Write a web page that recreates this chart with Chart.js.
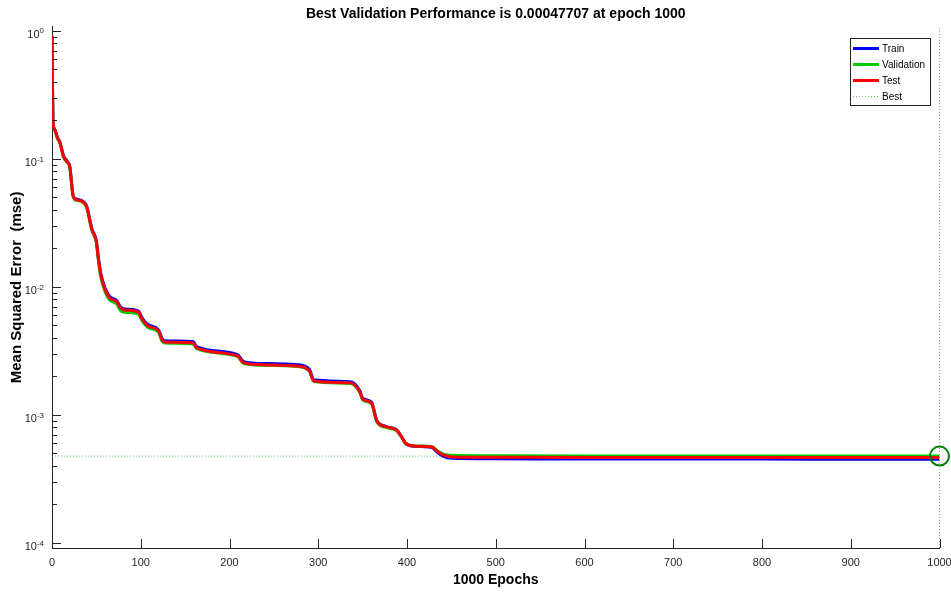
<!DOCTYPE html>
<html>
<head>
<meta charset="utf-8">
<script src="https://cdn.jsdelivr.net/npm/chart.js@4.4.1/dist/chart.umd.min.js"></script>
<style>
html, body { margin: 0; padding: 0; background: #fff; }
canvas { display: block; }
</style>
</head>
<body>
<canvas id="perfChart" width="951" height="592"></canvas>
<script>
// ---- datos ----
const epochs = [0, 1, 3, 6, 9, 13, 17, 20, 24, 28, 35, 39, 45, 50, 52, 55, 60, 65, 73, 77,
    82, 97, 102, 108, 120, 124, 127, 159, 163, 209, 216, 240, 276, 290, 295, 336, 347, 350, 360, 366,
    377, 388, 394, 398, 407, 428, 435, 441, 450, 500, 600, 700, 800, 900, 1000];

const trainPerf = [0.914, 0.204, 0.171, 0.148, 0.135, 0.106, 0.0960, 0.0875, 0.0512, 0.0484,
    0.0466, 0.0428, 0.0284, 0.0229, 0.0175, 0.0127, 0.0097, 0.0084, 0.00780, 0.00700,
    0.00672, 0.00650, 0.00565, 0.00508, 0.00462, 0.00395, 0.00380, 0.00374, 0.00342, 0.00296,
    0.00261, 0.00252, 0.00247, 0.00227, 0.00188, 0.00182, 0.00154, 0.00135, 0.00126, 0.000905,
    0.000812, 0.000768, 0.000675, 0.000604, 0.000570, 0.000556, 0.000505, 0.000474, 0.000458, 0.000454,
    0.000453, 0.000452, 0.000452, 0.000451, 0.000451];

const valPerf = [0.914, 0.200, 0.168, 0.145, 0.132, 0.103, 0.0940, 0.0860, 0.0500, 0.0474,
    0.0457, 0.0418, 0.0275, 0.0220, 0.0166, 0.0119, 0.0091, 0.0079, 0.00735, 0.00655,
    0.00634, 0.00615, 0.00535, 0.00482, 0.00442, 0.00376, 0.00364, 0.00358, 0.00329, 0.00285,
    0.00252, 0.00244, 0.00239, 0.00219, 0.00182, 0.00176, 0.00149, 0.00131, 0.00122, 0.000885,
    0.000796, 0.000757, 0.000668, 0.000603, 0.000575, 0.000566, 0.000520, 0.000495, 0.000484, 0.000480,
    0.000479, 0.000478, 0.0004775, 0.0004772, 0.00047707];

const testPerf = [0.914, 0.202, 0.169, 0.146, 0.133, 0.104, 0.0948, 0.0866, 0.0505, 0.0478,
    0.0461, 0.0422, 0.0279, 0.0225, 0.0171, 0.0124, 0.00948, 0.0082, 0.00764, 0.00686,
    0.00661, 0.00638, 0.00552, 0.00496, 0.00453, 0.00385, 0.00372, 0.00365, 0.00334, 0.00289,
    0.00255, 0.00246, 0.00241, 0.00221, 0.00184, 0.00178, 0.00151, 0.00133, 0.00124, 0.000898,
    0.000806, 0.000764, 0.000673, 0.000605, 0.000573, 0.000562, 0.000514, 0.000487, 0.000470, 0.000467,
    0.000466, 0.000466, 0.000466, 0.000466, 0.000466];

const bestEpoch = 1000;
const bestPerf = 0.00047707;

const xTicks = [0, 100, 200, 300, 400, 500, 600, 700, 800, 900, 1000];
const yDecades = [1e-4, 1e-3, 1e-2, 1e-1, 1];
const yMin = 9.14e-5;
const yMax = 1.074;

const legendItems = [
    { label: 'Train', color: '#0000ff', dotted: false },
    { label: 'Validation', color: '#00cc00', dotted: false },
    { label: 'Test', color: '#ff0000', dotted: false },
    { label: 'Best', color: 'rgba(0,170,0,0.6)', dotted: true }
];

const toPoints = (values) => epochs.map((e, i) => ({ x: e, y: values[i] }));

const FONT = "'Liberation Sans', Arial, Helvetica, sans-serif";
const AXIS_COLOR = '#262626';

// ticks hacia adentro, etiquetas 10^n y leyenda tipo MATLAB
const matlabAxes = {
    id: 'matlabAxes',
    afterDraw(chart) {
        const { ctx, chartArea } = chart;
        const xs = chart.scales.x;
        const ys = chart.scales.y;
        ctx.save();
        ctx.strokeStyle = AXIS_COLOR;
        ctx.lineWidth = 1;
        ctx.beginPath();
        yDecades.forEach(d => {
            const py = Math.round(ys.getPixelForValue(d)) + 0.5;
            ctx.moveTo(chartArea.left, py);
            ctx.lineTo(chartArea.left + 9, py);
            for (let m = 2; m <= 9; m++) {
                const v = d * m;
                if (v > yMax) continue;
                const pm = Math.round(ys.getPixelForValue(v)) + 0.5;
                ctx.moveTo(chartArea.left, pm);
                ctx.lineTo(chartArea.left + 5, pm);
            }
        });
        xTicks.forEach(t => {
            const px = Math.round(xs.getPixelForValue(t)) + 0.5;
            ctx.moveTo(px, chartArea.bottom);
            ctx.lineTo(px, chartArea.bottom - 9);
        });
        ctx.stroke();

        // etiquetas del eje y
        ctx.fillStyle = AXIS_COLOR;
        ctx.textAlign = 'right';
        ctx.textBaseline = 'middle';
        yDecades.forEach(d => {
            const py = ys.getPixelForValue(d);
            const exp = String(Math.round(Math.log10(d)));
            ctx.font = '8px ' + FONT;
            const ew = ctx.measureText(exp).width;
            ctx.fillText(exp, 44, py + 0.5);
            ctx.font = '11px ' + FONT;
            ctx.fillText('10', 44 - ew, py + 4);
        });

        // leyenda
        const bx = 850.5, by = 38.5, bw = 80, bh = 67;
        ctx.fillStyle = '#ffffff';
        ctx.fillRect(bx, by, bw, bh);
        ctx.strokeStyle = AXIS_COLOR;
        ctx.strokeRect(bx, by, bw, bh);
        ctx.textAlign = 'left';
        ctx.font = '10px ' + FONT;
        legendItems.forEach((it, i) => {
            const ly = 48 + i * 16;
            ctx.beginPath();
            ctx.strokeStyle = it.color;
            ctx.lineWidth = it.dotted ? 1 : 3;
            ctx.setLineDash(it.dotted ? [1, 2] : []);
            ctx.moveTo(853, ly + 0.5);
            ctx.lineTo(879, ly + 0.5);
            ctx.stroke();
            ctx.setLineDash([]);
            ctx.fillStyle = '#000000';
            ctx.fillText(it.label, 882, ly + 1);
        });
        ctx.restore();
    }
};

const lineSet = (label, values, color, order) => ({
    label: label,
    data: toPoints(values),
    borderColor: color,
    backgroundColor: color,
    borderWidth: 3,
    pointRadius: 0,
    cubicInterpolationMode: 'monotone',
    order: order
});

new Chart(document.getElementById('perfChart'), {
    type: 'line',
    data: {
        datasets: [
            lineSet('Train', trainPerf, '#0000ff', 3),
            lineSet('Validation', valPerf, '#00cc00', 2),
            lineSet('Test', testPerf, '#ff0000', 1),
            {
                label: 'Best',
                data: [{ x: 0, y: bestPerf }, { x: xTicks[xTicks.length - 1], y: bestPerf }],
                borderColor: 'rgba(0,170,0,0.6)',
                borderWidth: 1,
                borderDash: [1, 2],
                pointRadius: 0,
                order: 10
            },
            {
                label: 'BestV',
                data: [{ x: bestEpoch, y: yMin }, { x: bestEpoch, y: yMax }],
                borderColor: 'rgba(0,170,0,0.6)',
                borderWidth: 1,
                borderDash: [1, 2],
                pointRadius: 0,
                clip: false,
                order: 10
            },
            {
                label: 'BestPoint',
                data: [{ x: bestEpoch, y: bestPerf }],
                showLine: false,
                pointRadius: 9.5,
                pointBorderWidth: 2,
                pointBorderColor: '#008000',
                pointBackgroundColor: 'rgba(0,0,0,0)',
                clip: false,
                order: 0
            }
        ]
    },
    options: {
        responsive: false,
        animation: false,
        devicePixelRatio: 1,
        layout: { padding: { left: 0, right: 11, top: 0, bottom: 0 } },
        plugins: {
            legend: { display: false },
            tooltip: { enabled: false },
            title: {
                display: true,
                fullSize: false,
                text: 'Best Validation Performance is 0.00047707 at epoch 1000',
                color: '#000000',
                font: { family: FONT, size: 14, weight: 'bold' },
                padding: { top: 6, bottom: 4 }
            }
        },
        scales: {
            x: {
                type: 'linear',
                min: 0,
                max: 1000,
                grid: { display: false, drawTicks: false },
                border: { display: true, color: AXIS_COLOR, width: 1 },
                ticks: {
                    stepSize: 100,
                    color: AXIS_COLOR,
                    padding: 8,
                    maxRotation: 0,
                    font: { family: FONT, size: 11 },
                    callback: (v) => String(v)
                },
                title: {
                    display: true,
                    text: '1000 Epochs',
                    color: '#000000',
                    font: { family: FONT, size: 14, weight: 'bold' },
                    padding: { top: 0, bottom: 3 }
                },
                afterFit(scale) {
                    scale.height = 44;
                    scale.paddingLeft = 0;
                    scale.paddingRight = 0;
                }
            },
            y: {
                type: 'logarithmic',
                min: yMin,
                max: yMax,
                grid: { display: false, drawTicks: false },
                border: { display: true, color: AXIS_COLOR, width: 1 },
                ticks: { display: false },
                title: {
                    display: true,
                    text: 'Mean Squared Error  (mse)',
                    color: '#000000',
                    font: { family: FONT, size: 15, weight: 'bold' },
                    padding: { top: 8, bottom: 0 }
                },
                afterFit(scale) {
                    scale.width = 52;
                    scale.paddingTop = 0;
                    scale.paddingBottom = 0;
                }
            }
        }
    },
    plugins: [matlabAxes]
});
</script>
</body>
</html>
